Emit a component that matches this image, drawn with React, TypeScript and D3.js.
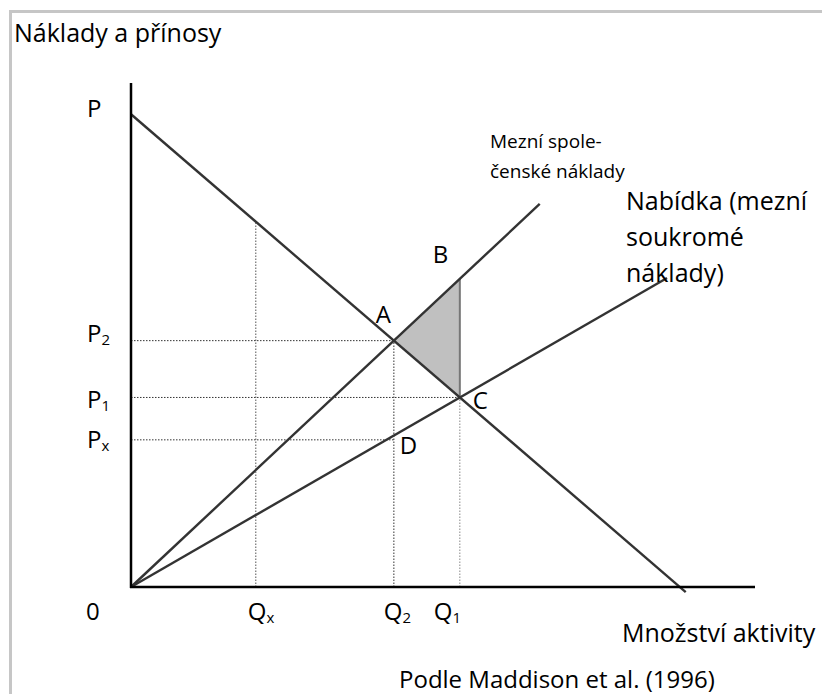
import React from "react";
import * as d3 from "d3";

// ---- data ----
const axisMax = [100, 100]; // quantity, cost/benefit
const demandLine: [number, number][] = [[0, 93.8], [88.9, -1.0]];
const mscLine: [number, number][] = [[0, 0], [65.5, 76.0]];
const supplyLine: [number, number][] = [[0, 0], [85.9, 61.3]];
const qxValue = 20;
const pxValue = 29.2;

const yTickLabels = [
  { key: "P", text: "P", sub: "" },
  { key: "P2", text: "P", sub: "2" },
  { key: "P1", text: "P", sub: "1" },
  { key: "Px", text: "P", sub: "x" },
];
const xTickLabels = [
  { key: "0", text: "0", sub: "" },
  { key: "Qx", text: "Q", sub: "x" },
  { key: "Q2", text: "Q", sub: "2" },
  { key: "Q1", text: "Q", sub: "1" },
];
const pointLabels = ["A", "B", "C", "D"];
const titleText = "Náklady a přínosy";
const xAxisTitle = "Množství aktivity";
const mscLabel = ["Mezní spole-", "čenské náklady"];
const supplyLabel = ["Nabídka (mezní", "soukromé", "náklady)"];
const sourceText = "Podle Maddison et al. (1996)";

const W = 822;
const H = 694;
const FONT = "'Open Sans', 'Noto Sans', sans-serif";

function lineAt(l: [number, number][], q: number) {
  const [[x0, y0], [x1, y1]] = l;
  return y0 + ((y1 - y0) / (x1 - x0)) * (q - x0);
}
function intersect(a: [number, number][], b: [number, number][]) {
  const ma = (a[1][1] - a[0][1]) / (a[1][0] - a[0][0]);
  const mb = (b[1][1] - b[0][1]) / (b[1][0] - b[0][0]);
  const ca = a[0][1] - ma * a[0][0];
  const cb = b[0][1] - mb * b[0][0];
  const q = (cb - ca) / (ma - mb);
  return [q, ma * q + ca] as [number, number];
}

export default function App() {
  const x = d3.scaleLinear().domain([0, axisMax[0]]).range([131, 755]);
  const y = d3.scaleLinear().domain([0, axisMax[1]]).range([587, 83]);
  const line = d3
    .line<[number, number]>()
    .x((d) => x(d[0]))
    .y((d) => y(d[1]));

  const A = intersect(demandLine, mscLine);
  const C = intersect(demandLine, supplyLine);
  const B: [number, number] = [C[0], lineAt(mscLine, C[0])];
  const D: [number, number] = [A[0], lineAt(supplyLine, A[0])];
  const qxTop = lineAt(demandLine, qxValue);

  const yVals: Record<string, number> = {
    P: demandLine[0][1],
    P2: A[1],
    P1: C[1],
    Px: pxValue,
  };
  const yOff: Record<string, number> = { P: 3, P2: 1, P1: 11, Px: 8 };
  const xVals: Record<string, number> = { "0": 0, Qx: qxValue, Q2: A[0], Q1: C[0] };
  const xOff: Record<string, number> = { "0": -45, Qx: -8, Q2: -10, Q1: -26 };

  const pts: Record<string, [number, number]> = { A, B, C, D };
  const ptOff: Record<string, [number, number]> = {
    A: [-18, -18],
    B: [-27, -16],
    C: [13, 12],
    D: [6, 19],
  };

  const fs = 24;
  const subFs = 15;

  return (
    <svg
      width={W}
      height={H}
      style={{ position: "absolute", left: 0, top: 0, background: "#fff" }}
      fontFamily={FONT}
    >
      <rect x={0} y={0} width={W} height={H} fill="#fff" />
      {/* frame */}
      <path d={`M10.5,${H} V11.5 H${W}`} fill="none" stroke="#c6c6c6" strokeWidth={3} />

      {/* shaded welfare loss */}
      <path d={line([A, B, C, A]) || ""} fill="#c0c0c0" stroke="none" />

      {/* dotted guides */}
      <g fill="none" strokeWidth={1} strokeDasharray="1.5,1.5">
        <line x1={x(0)} x2={x(A[0])} y1={y(A[1])} y2={y(A[1])} stroke="#333" />
        <line x1={x(0)} x2={x(C[0])} y1={y(C[1])} y2={y(C[1])} stroke="#333" />
        <line x1={x(0)} x2={x(A[0])} y1={y(pxValue)} y2={y(pxValue)} stroke="#333" />
        <line x1={x(qxValue)} x2={x(qxValue)} y1={y(0)} y2={y(qxTop)} stroke="#555" />
        <line x1={x(A[0])} x2={x(A[0])} y1={y(0)} y2={y(A[1])} stroke="#333" />
        <line x1={x(C[0])} x2={x(C[0])} y1={y(0)} y2={y(C[1])} stroke="#888" />
      </g>

      {/* B-C edge */}
      <line x1={x(B[0])} x2={x(C[0])} y1={y(B[1])} y2={y(C[1])} stroke="#777" strokeWidth={2} />

      {/* curves */}
      <g fill="none" stroke="#333" strokeWidth={2.4}>
        <path d={line(demandLine) || ""} />
        <path d={line(mscLine) || ""} />
        <path d={line(supplyLine) || ""} />
      </g>

      {/* axes */}
      <g stroke="#000" strokeWidth={2.5}>
        <line x1={x(0)} x2={x(0)} y1={y(axisMax[1])} y2={y(0) + 1} />
        <line x1={x(0) - 1} x2={x(axisMax[0])} y1={y(0)} y2={y(0)} />
      </g>

      <g fill="#000" fontSize={fs}>
        <text x={14} y={42} fontSize={25}>{titleText}</text>

        {yTickLabels.map((t) => (
          <text key={t.key} x={87} y={y(yVals[t.key]) + yOff[t.key]}>
            {t.text}
            {t.sub && (
              <tspan fontSize={subFs} dy={3}>
                {t.sub}
              </tspan>
            )}
          </text>
        ))}

        {xTickLabels.map((t) => (
          <text key={t.key} x={x(xVals[t.key]) + xOff[t.key]} y={620}>
            {t.text}
            {t.sub && (
              <tspan fontSize={subFs} dy={3}>
                {t.sub}
              </tspan>
            )}
          </text>
        ))}

        {pointLabels.map((k) => (
          <text key={k} x={x(pts[k][0]) + ptOff[k][0]} y={y(pts[k][1]) + ptOff[k][1]}>
            {k}
          </text>
        ))}

        {mscLabel.map((s, i) => (
          <text key={s} x={490} y={148 + i * 30} fontSize={19}>
            {s}
          </text>
        ))}
        {supplyLabel.map((s, i) => (
          <text key={s} x={626} y={210 + i * 36} fontSize={25}>
            {s}
          </text>
        ))}

        <text x={622} y={642} fontSize={25}>{xAxisTitle}</text>
        <text x={399} y={688}>{sourceText}</text>
      </g>
    </svg>
  );
}
